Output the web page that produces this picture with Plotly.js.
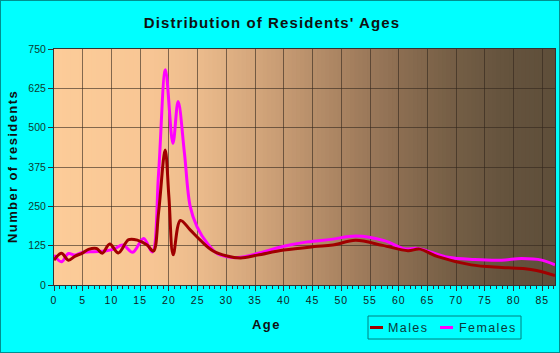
<!DOCTYPE html>
<html>
<head>
<meta charset="utf-8">
<script src="https://cdn.plot.ly/plotly-3.0.1.min.js"></script>
<style>
  html, body { margin: 0; padding: 0; background: #00ffff; }
  #wrap { width: 560px; height: 353px; box-sizing: border-box; border: 1px solid #009090; }
  #chart { width: 558px; height: 351px; }
  .gtitle { letter-spacing: 1.1px; }
  .annotation-text { letter-spacing: 1.4px; }
  .xtick text { letter-spacing: 1px; }
</style>
</head>
<body>
<div id="wrap"><div id="chart"></div></div>
<script>
// ---- data ----
const chartTitle = "Distribution of Residents' Ages";
const xTitle = "Age";
const yTitle = "Number of residents";
const seriesNames = ["Males", "Females"];
const seriesColors = ["#a00000", "#ff00ff"];

const maleAges   = [0, 1.3, 2.5, 3.7, 4.8, 6, 7.4, 8.4, 9.7, 11.2, 13, 14.6, 16.2, 17.3, 18.2, 19.35, 20.0, 20.75, 22.0, 23.7, 25.6, 27.7, 30.1, 32.5, 35.4, 40, 45.3, 48.5, 52.5, 57.2, 61.6, 63.6, 66.8, 72.6, 77.9, 82, 84, 87.2];
const maleCounts = [79, 101, 79, 92, 100, 113, 116, 101, 130, 102, 144, 142, 127, 108, 230, 429, 280, 96, 205, 175, 140, 108, 92, 86, 95, 111, 122, 127, 142, 126, 109, 114, 90, 64, 56, 52, 46, 30];

const femaleAges   = [0, 1.3, 2.5, 3.7, 4.8, 6.9, 8.9, 10.4, 12, 13.7, 15.6, 17.1, 18.2, 19.4, 20.7, 21.6, 22.7, 23.7, 24.9, 26.7, 28.4, 30.7, 32.5, 35.4, 40, 44.1, 48.2, 52.6, 57.5, 61, 63.3, 68.6, 73.2, 77.9, 81.4, 84.9, 87.2];
const femaleCounts = [95, 74, 100, 95, 103, 106, 108, 114, 127, 104, 148, 105, 355, 684, 450, 583, 420, 250, 185, 132, 100, 88, 88, 100, 123, 137, 145, 156, 141, 115, 116, 88, 81, 79, 84, 79, 64];

const xTickVals = [0,5,10,15,20,25,30,35,40,45,50,55,60,65,70,75,80,85];
const yTickVals = [0,125,250,375,500,625,750];

// ---- helpers: pixel position in the page -> paper coordinates ----
const PX0 = 54, PW = 501, PY0 = 285, PH = 236;
const px = v => (v - PX0) / PW;
const py = v => (PY0 - v) / PH;

// ---- background gradient for the plot area ----
const stops = [
  [0.00, [252,204,153]], [0.19, [248,198,148]], [0.29, [235,187,140]],
  [0.39, [214,168,125]], [0.49, [190,148,110]], [0.59, [165,128,95]],
  [0.69, [140,110,82]],  [0.79, [118,95,70]],   [0.89, [102,84,62]],
  [1.00, [94,78,58]]
];
function colAt(f) {
  for (let i = 1; i < stops.length; i++) {
    if (f <= stops[i][0]) {
      const a = stops[i-1], b = stops[i];
      const t = (f - a[0]) / (b[0] - a[0]);
      const c = a[1].map((v, k) => Math.round(v + (b[1][k] - v) * t));
      return 'rgb(' + c.join(',') + ')';
    }
  }
  return 'rgb(' + stops[stops.length-1][1].join(',') + ')';
}
const N = 120;
const shapes = [];
for (let i = 0; i < N; i++) {
  shapes.push({
    type: 'rect', xref: 'paper', yref: 'paper', layer: 'below',
    x0: i / N, x1: (i + 1) / N + 0.002, y0: 0, y1: 1,
    line: { width: 0 }, fillcolor: colAt((i + 0.5) / N)
  });
}

// ---- legend box drawn by hand (short line symbols like the reference) ----
shapes.push({
  type: 'rect', xref: 'paper', yref: 'paper', layer: 'above',
  x0: px(368), x1: px(521), y0: py(339), y1: py(316),
  line: { color: '#008080', width: 1 }, fillcolor: 'rgba(0,0,0,0)'
});
const legendItems = [
  { name: seriesNames[0], color: seriesColors[0], l0: 370, l1: 383, t: 386 },
  { name: seriesNames[1], color: seriesColors[1], l0: 440, l1: 453, t: 457 }
];
const font = "'Liberation Sans', Arial, sans-serif";
const annotations = [
  {
    text: xTitle, xref: 'paper', yref: 'paper', x: px(266), y: py(324),
    xanchor: 'center', yanchor: 'middle', showarrow: false,
    font: { family: font, size: 13, weight: 'bold', color: '#111' }
  },
  {
    text: yTitle, xref: 'paper', yref: 'paper', x: px(12), y: py(167),
    xanchor: 'center', yanchor: 'middle', showarrow: false, textangle: -90,
    font: { family: font, size: 13, weight: 'bold', color: '#111' }
  }
];
legendItems.forEach(it => {
  shapes.push({
    type: 'line', xref: 'paper', yref: 'paper', layer: 'above',
    x0: px(it.l0), x1: px(it.l1), y0: py(327.5), y1: py(327.5),
    line: { color: it.color, width: 3 }
  });
  annotations.push({
    text: it.name, xref: 'paper', yref: 'paper', x: px(it.t), y: py(327.5),
    xanchor: 'left', yanchor: 'middle', showarrow: false,
    font: { family: font, size: 12.5, color: '#0a3a3a' }
  });
});

const traces = [
  {
    x: femaleAges, y: femaleCounts, name: seriesNames[1], type: 'scatter', mode: 'lines',
    line: { color: seriesColors[1], width: 3, shape: 'spline', smoothing: 1 },
    hoverinfo: 'skip'
  },
  {
    x: maleAges, y: maleCounts, name: seriesNames[0], type: 'scatter', mode: 'lines',
    line: { color: seriesColors[0], width: 3, shape: 'spline', smoothing: 1 },
    hoverinfo: 'skip'
  }
];

const layout = {
  width: 558, height: 351,
  paper_bgcolor: '#00ffff', plot_bgcolor: 'rgba(0,0,0,0)',
  margin: { l: 53, r: 4, t: 48, b: 67, pad: 0 },
  font: { family: font, color: '#0a2a2a' },
  title: {
    text: chartTitle, x: 271 / 558, xanchor: 'center', xref: 'container',
    y: 1 - 22 / 351, yanchor: 'middle', yref: 'container',
    font: { family: font, size: 15, weight: 'bold', color: '#111' }
  },
  xaxis: {
    range: [0, 87.2], tickvals: xTickVals, ticks: 'outside', ticklen: 5, tickwidth: 1,
    tickcolor: '#333', showline: true, linecolor: '#333', linewidth: 1, mirror: true,
    showgrid: true, gridcolor: 'rgba(50,38,28,0.6)', gridwidth: 1, zeroline: false,
    tickfont: { family: font, size: 10.5, color: '#122' },
    minor: { dtick: 1, ticks: 'outside', ticklen: 3, tickcolor: '#333', showgrid: false },
    fixedrange: true
  },
  yaxis: {
    range: [0, 750], tickvals: yTickVals, ticks: 'outside', ticklen: 5, tickwidth: 1,
    tickcolor: '#333', showline: true, linecolor: '#333', linewidth: 1, mirror: true,
    showgrid: true, gridcolor: 'rgba(50,38,28,0.6)', gridwidth: 1, zeroline: false,
    tickfont: { family: font, size: 10.5, color: '#0d3b2e' },
    fixedrange: true
  },
  showlegend: false,
  annotations: annotations,
  shapes: shapes
};

Plotly.newPlot('chart', traces, layout, { displayModeBar: false, staticPlot: true });
</script>
</body>
</html>
